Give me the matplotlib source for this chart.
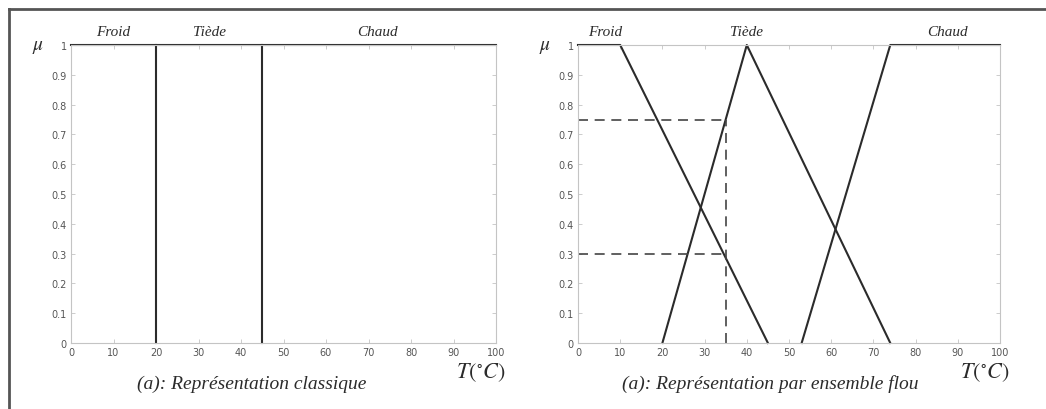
import numpy as np
import matplotlib.pyplot as plt
from matplotlib.lines import Line2D

# Représentation classique : seuils nets
seuils_classiques = [20, 45]
classique_x = [0, 100]
classique_mu = [1, 1]

# Représentation par ensemble flou
froid_x = [0, 10, 45]
froid_mu = [1, 1, 0]
tiede_x = [20, 40, 74]
tiede_mu = [0, 1, 0]
chaud_x = [53, 74, 100]
chaud_mu = [0, 1, 1]

t_mesure = 35
mu_mesure = [0.75, 0.3]

labels_gauche = {"Froid": 10, "Tiède": 32.5, "Chaud": 72}
labels_droite = {"Froid": 6.5, "Tiède": 40, "Chaud": 87.5}

plt.rcParams["mathtext.fontset"] = "stix"
serif = "Liberation Serif"
ligne = "#2b2b2b"
gris = "#c4c4c4"

fig = plt.figure(figsize=(10.46, 4.10), dpi=100)

# cadre extérieur (haut et gauche)
fig.add_artist(Line2D([9/1046, 1], [1-10/410]*2, color="#555555", lw=2))
fig.add_artist(Line2D([9/1046]*2, [0, 1-10/410], color="#555555", lw=2))

bas = 1 - 344/410
haut = 1 - 46/410
ax1 = fig.add_axes([71/1046, bas, (496-71)/1046, haut-bas])
ax2 = fig.add_axes([578/1046, bas, (1000-578)/1046, haut-bas])

for ax in (ax1, ax2):
    ax.set_xlim(0, 100)
    ax.set_ylim(0, 1)
    ax.set_xticks(np.arange(0, 101, 10))
    ax.set_yticks(np.round(np.arange(0, 1.01, 0.1), 1))
    ax.set_yticklabels(["0", "0.1", "0.2", "0.3", "0.4", "0.5", "0.6", "0.7", "0.8", "0.9", "1"])
    ax.tick_params(direction="in", length=3, width=0.6, color=gris, labelsize=7,
                   labelcolor="#555555", top=True, right=True, pad=3)
    for s in ax.spines.values():
        s.set_color(gris)
        s.set_linewidth(0.8)
    ax.text(-0.078, 1.0, r"$\mu$", transform=ax.transAxes, fontsize=14,
            ha="center", va="center", color=ligne)
    ax.text(0.965, -0.095, r"$T(^{\circ}C)$", transform=ax.transAxes, fontsize=16,
            ha="center", va="center", color=ligne)

# gauche
ax1.plot(classique_x, classique_mu, color=ligne, lw=1.5, clip_on=False)
for s in seuils_classiques:
    ax1.plot([s, s], [0, 1], color=ligne, lw=1.5, clip_on=False)
for nom, x in labels_gauche.items():
    ax1.text(x, 1.044, nom, fontsize=11, family=serif, style="italic",
             ha="center", va="center", color=ligne)
ax1.text(0.426, -0.135, "(a): Représentation classique", transform=ax1.transAxes,
         fontsize=14, family=serif, style="italic", ha="center", va="center", color=ligne)

# droite
for xs, ys in ((froid_x, froid_mu), (tiede_x, tiede_mu), (chaud_x, chaud_mu)):
    ax2.plot(xs, ys, color=ligne, lw=1.5, clip_on=False)
for m in mu_mesure:
    ax2.plot([0, t_mesure], [m, m], color="#444444", lw=1.2, linestyle=(0, (6, 4)))
ax2.plot([t_mesure, t_mesure], [0, max(mu_mesure)], color="#444444", lw=1.2,
         linestyle=(0, (6, 4)))
for nom, x in labels_droite.items():
    ax2.text(x, 1.044, nom, fontsize=11, family=serif, style="italic",
             ha="center", va="center", color=ligne)
ax2.text(0.455, -0.135, "(a): Représentation par ensemble flou", transform=ax2.transAxes,
         fontsize=14, family=serif, style="italic", ha="center", va="center", color=ligne)

fig.savefig("out.png", dpi=100)
